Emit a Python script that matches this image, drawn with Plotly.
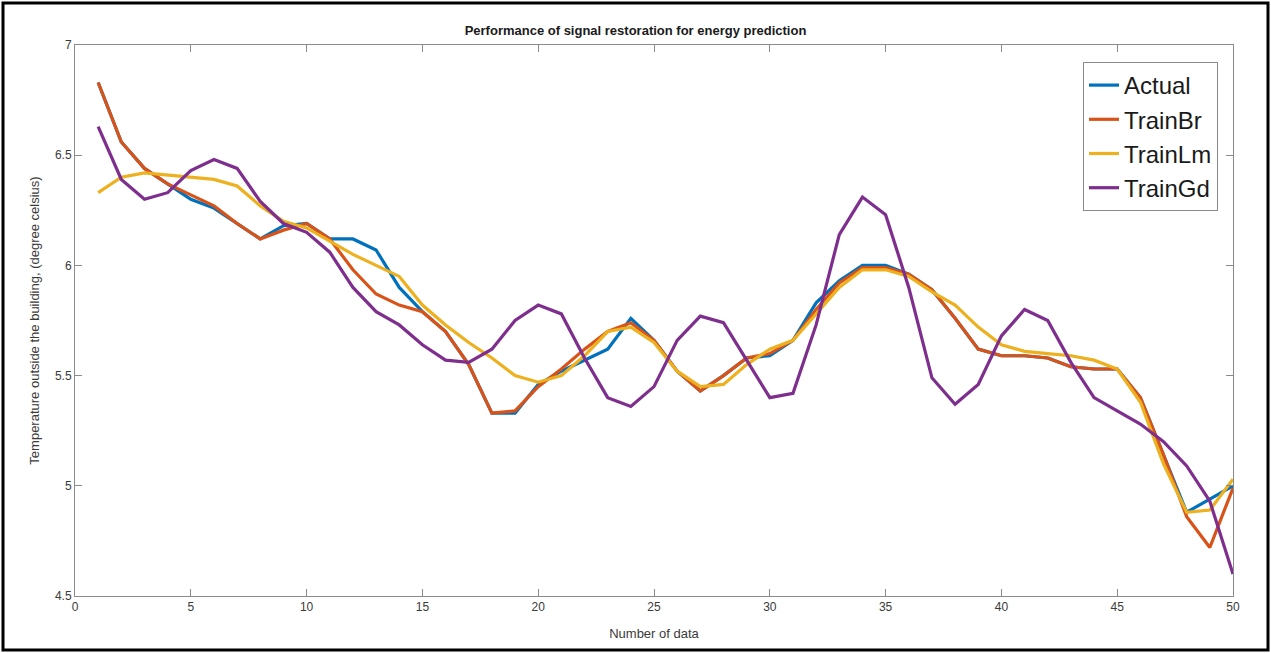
import plotly.graph_objects as go

x = list(range(1, 51))

actual = [6.83, 6.56, 6.44, 6.37, 6.30, 6.26, 6.19, 6.12, 6.18, 6.19,
          6.12, 6.12, 6.07, 5.90, 5.79, 5.70, 5.55, 5.33, 5.33, 5.46,
          5.52, 5.57, 5.62, 5.76, 5.66, 5.52, 5.43, 5.50, 5.58, 5.59,
          5.66, 5.83, 5.93, 6.00, 6.00, 5.96, 5.89, 5.76, 5.62, 5.59,
          5.59, 5.58, 5.54, 5.53, 5.53, 5.40, 5.14, 4.88, 4.94, 5.00]

train_br = [6.83, 6.56, 6.44, 6.37, 6.32, 6.27, 6.19, 6.12, 6.16, 6.19,
            6.12, 5.98, 5.87, 5.82, 5.79, 5.70, 5.55, 5.33, 5.34, 5.45,
            5.53, 5.62, 5.70, 5.74, 5.66, 5.52, 5.43, 5.50, 5.58, 5.60,
            5.66, 5.80, 5.92, 5.99, 5.99, 5.96, 5.89, 5.76, 5.62, 5.59,
            5.59, 5.58, 5.54, 5.53, 5.53, 5.40, 5.14, 4.86, 4.72, 4.99]

train_lm = [6.33, 6.40, 6.42, 6.41, 6.40, 6.39, 6.36, 6.27, 6.20, 6.17,
            6.11, 6.05, 6.00, 5.95, 5.82, 5.73, 5.65, 5.58, 5.50, 5.47,
            5.50, 5.59, 5.70, 5.72, 5.65, 5.52, 5.45, 5.46, 5.55, 5.62,
            5.66, 5.78, 5.90, 5.98, 5.98, 5.95, 5.88, 5.82, 5.72, 5.64,
            5.61, 5.60, 5.59, 5.57, 5.53, 5.38, 5.10, 4.88, 4.89, 5.03]

train_gd = [6.63, 6.39, 6.30, 6.33, 6.43, 6.48, 6.44, 6.29, 6.19, 6.15,
            6.06, 5.90, 5.79, 5.73, 5.64, 5.57, 5.56, 5.62, 5.75, 5.82,
            5.78, 5.58, 5.40, 5.36, 5.45, 5.66, 5.77, 5.74, 5.57, 5.40,
            5.42, 5.73, 6.14, 6.31, 6.23, 5.90, 5.49, 5.37, 5.46, 5.68,
            5.80, 5.75, 5.56, 5.40, 5.34, 5.28, 5.20, 5.09, 4.93, 4.60]

series = [("Actual", actual, "#0072BD"),
          ("TrainBr", train_br, "#D95319"),
          ("TrainLm", train_lm, "#EDB120"),
          ("TrainGd", train_gd, "#7E2F8E")]

x_ticks = [0, 5, 10, 15, 20, 25, 30, 35, 40, 45, 50]
y_ticks = [4.5, 5, 5.5, 6, 6.5, 7]

fig = go.Figure()
for name, vals, color in series:
    fig.add_trace(go.Scatter(x=x, y=vals, mode="lines", name=name,
                             line=dict(color=color, width=3.2)))

W, H = 1271, 653
L, R, T, B = 75, 38, 45, 57
pw, ph = W - L - R, H - T - B

def px_to_paper_x(p):
    return (p - L) / pw

def px_to_paper_y(p):
    return (H - B - p) / ph

fig.add_shape(type="rect", xref="paper", yref="paper",
              x0=px_to_paper_x(3), x1=px_to_paper_x(1268),
              y0=px_to_paper_y(650), y1=px_to_paper_y(3),
              line=dict(color="black", width=3), fillcolor="rgba(0,0,0,0)",
              layer="below")

axis_common = dict(showgrid=False, zeroline=False, showline=True,
                   linecolor="#8a8a8a", linewidth=1, mirror="ticks",
                   ticks="inside", ticklen=7, tickcolor="#8a8a8a",
                   tickfont=dict(family="Liberation Sans Narrow, Liberation Sans, Arial", size=12, color="#3a3a3a"))

fig.update_layout(
    width=W, height=H,
    margin=dict(l=L, r=R, t=T, b=B),
    paper_bgcolor="white", plot_bgcolor="white",
    title=dict(text="<b>Performance of signal restoration for energy prediction</b>",
               x=0.5, xanchor="center", y=1 - 30 / H, yanchor="middle",
               font=dict(family="Liberation Sans Narrow, Liberation Sans, Arial", size=13, color="#1a1a1a")),
    xaxis=dict(range=[0, 50], tickvals=x_ticks,
               title=dict(text="Number of data", standoff=15,
                          font=dict(family="Liberation Sans, Arial", size=13, color="#3a3a3a")),
               **axis_common),
    yaxis=dict(range=[4.5, 7], tickvals=y_ticks,
               title=dict(text="Temperature outside the building, (degree celsius)", standoff=12,
                          font=dict(family="Liberation Sans, Arial", size=13, color="#3a3a3a")),
               **axis_common),
    legend=dict(x=px_to_paper_x(1218), xanchor="right",
                y=px_to_paper_y(62), yanchor="top",
                bgcolor="white", bordercolor="#8a8a8a", borderwidth=1,
                font=dict(family="Liberation Sans, Arial", size=24, color="#1a1a1a"),
                tracegroupgap=0, itemwidth=30),
    showlegend=True,
)

fig.write_html("out.html", config={"displayModeBar": False},
               post_script="document.body.style.margin='0px';document.body.style.overflow='hidden';")
